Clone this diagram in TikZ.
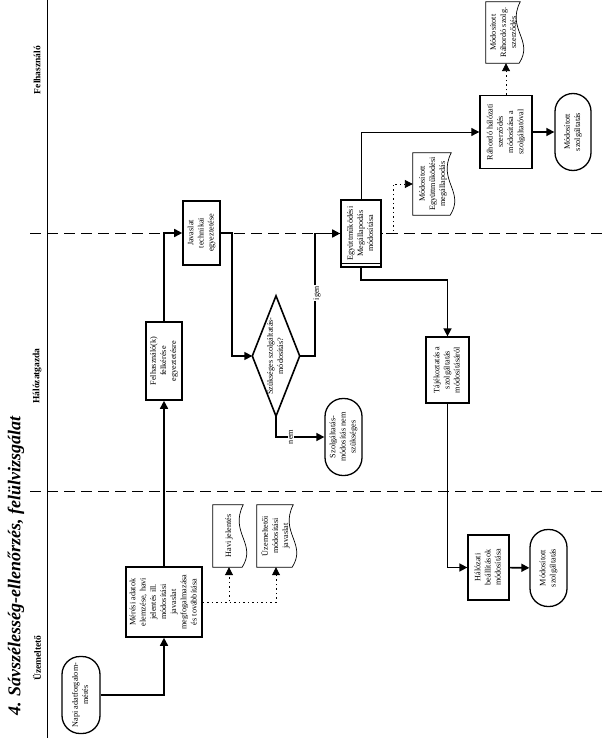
\documentclass[tikz,border=0pt]{standalone}
\usepackage{fontspec}
\setmainfont{Liberation Serif}
\usetikzlibrary{arrows.meta,calc}
\newcommand{\rtx}[1]{\rotatebox{90}{\begin{tabular}{@{}c@{}}#1\end{tabular}}}
\newcommand{\docwave}[1]{%
  \draw[docl] (#1.north west) -- ($(#1.north east)+(-2,0)$)
    .. controls ($(#1.north east)!0.45!(#1.south east)+(-16,0)$) and ($(#1.north east)!0.62!(#1.south east)+(12,0)$) ..
    ($(#1.south east)+(-3,0)$) -- (#1.south west) -- cycle;}
\begin{document}
\begin{tikzpicture}[x=1pt,y=-1pt,
  every node/.style={font=\fontsize{8.2}{10.2}\selectfont, inner sep=0pt},
  box/.style={draw, line width=1.6pt, fill=white, rectangle},
  tbox/.style={draw, line width=1.3pt, fill=white, rectangle},
  term/.style={draw, line width=1.3pt, fill=white, rounded corners=18pt},
  docn/.style={rectangle},
  docl/.style={draw, line width=0.7pt, fill=white},
  conn/.style={line width=1.6pt, line join=miter, -{Triangle[length=8pt,width=8pt]}},
  thinconn/.style={line width=0.8pt, -{Triangle[length=8pt,width=8pt]}},
  dotconn/.style={line width=0.9pt, dash pattern=on 1.5pt off 3pt, -{Triangle[length=8pt,width=8pt]}},
  lane/.style={line width=0.9pt, dash pattern=on 11pt off 6pt},
  lbl/.style={fill=white, inner sep=1pt},
  lanelbl/.style={font=\fontsize{9.5}{11}\selectfont\bfseries}]
\useasboundingbox (0,0) rectangle (603,738);
% lanes
\draw[line width=0.8pt] (47,0) -- (47,738);
\draw[lane] (30,233) -- (603,233);
\draw[lane] (30,491) -- (603,491);
\node (title) at (16,566) {\fontsize{18}{20}\selectfont\bfseries\itshape\rotatebox{90}{4. Sávszélesség-ellenőrzés, felülvizsgálat}};
\node[lanelbl] (l1) at (37,658) {\rotatebox{90}{Üzemeltető}};
\node[lanelbl] (l2) at (37,376) {\rotatebox{90}{Hálózatgazda}};
\node[lanelbl] (l3) at (37,70) {\rotatebox{90}{Felhasználó}};
% nodes
\node[term, minimum width=38pt, minimum height=77pt] (napi) at (81,695) {\rtx{Napi adatforgalom-\\mérés}};
\node[box, minimum width=76pt, minimum height=70pt] (meres) at (164,602) {\rtx{Mérési adatok\\elemzése, havi\\jelentés ill.\\módosítási\\javaslat\\megfogalmazása\\és továbbítása}};
\node[docn, minimum width=32pt, minimum height=62pt] (havi) at (229,536) {};
\docwave{havi}
\node at (havi) {\rtx{Havi jelentés}};
\node[docn, minimum width=38pt, minimum height=62pt] (uzem) at (276,536) {};
\docwave{uzem}
\node at (uzem) {\rtx{Üzemeltetői\\módosítási\\javaslat}};
\node[box, minimum width=36pt, minimum height=78pt] (felk) at (164,361) {\rtx{Felhasználó(k)\\felkérése\\egyeztetésre}};
\node[box, minimum width=37pt, minimum height=64pt] (jav) at (201.5,233) {\rtx{Javaslat\\technikai\\egyeztetése}};
\node[rectangle, minimum width=47pt, minimum height=120pt] (dia) at (276,356) {};
\draw[line width=1.6pt, line join=miter, fill=white] (dia.north) -- (dia.east) -- (dia.south) -- (dia.west) -- cycle;
\node at (dia) {\rtx{Szükséges szolgáltatás-\\módosítás?}};
\node[term, minimum width=37pt, minimum height=77pt] (nemterm) at (343.5,437) {\rtx{Szolgáltatás-\\módosítás nem\\szükséges}};
\node[box, minimum width=40pt, minimum height=67pt] (egy) at (361,233.5) {\rtx{Együttműködési\\Megállapodás\\módosítása}};
\draw[line width=1.2pt] ($(egy.south west)+(0,-4)$) -- ($(egy.south east)+(0,-4)$);
\node[docn, minimum width=40pt, minimum height=62pt] (doc2) at (433,184) {};
\docwave{doc2}
\node at (doc2) {\rtx{Módosított\\Együttműködési\\megállapodás}};
\node[tbox, minimum width=43pt, minimum height=66pt] (taj) at (447.5,370) {\rtx{Tájékoztatás a\\szolgáltatás\\módosításáról}};
\node[tbox, minimum width=41pt, minimum height=65pt] (hal) at (488.5,567.5) {\rtx{Hálózati\\beállítások\\módosítása}};
\node[term, minimum width=37pt, minimum height=77pt] (mod2) at (548.5,568) {\rtx{Módosított\\szolgáltatás}};
\node[tbox, minimum width=52pt, minimum height=73pt] (rah) at (506,132) {\rtx{Ráhordó hálózati\\szerződés\\módosítása a\\szolgáltatóval}};
\node[term, minimum width=36pt, minimum height=77pt] (mod1) at (573,132) {\rtx{Módosított\\szolgáltatás}};
\node[docn, minimum width=36pt, minimum height=61pt] (doc3) at (504,32.5) {};
\docwave{doc3}
\node at (doc3) {\rtx{Módosított\\Ráhordó szolg.\\szerződés}};
% connectors
\draw[conn] (napi) -| (meres);
\draw[conn] (meres) -- (felk);
\draw[conn] (felk) |- (jav);
\draw[dotconn] (meres) -| (havi);
\draw[dotconn] (meres) -| (uzem);
\draw[conn] (jav) -- (jav -| 232,0) |- (dia.west);
\draw[conn] (dia.east) -| (315,0 |- egy) -- (egy);
\draw[conn] (dia.south) |- (nemterm);
\node[lbl] (igen) at (317,293) {\rotatebox{90}{igen}};
\node[lbl] (nem) at (291,437) {\rotatebox{90}{nem}};
\draw[thinconn] (egy) |- (rah);
\draw[dotconn] (egy) -- (egy -| 393,0) |- (doc2);
\draw[conn] (egy) -- (egy |- 0,280) -| (taj);
\draw[conn] (taj) |- (hal);
\draw[conn] (hal) -- (mod2);
\draw[conn] (rah) -- (mod1);
\draw[dotconn] (rah) -- (rah |- doc3.south);
\end{tikzpicture}
\end{document}
